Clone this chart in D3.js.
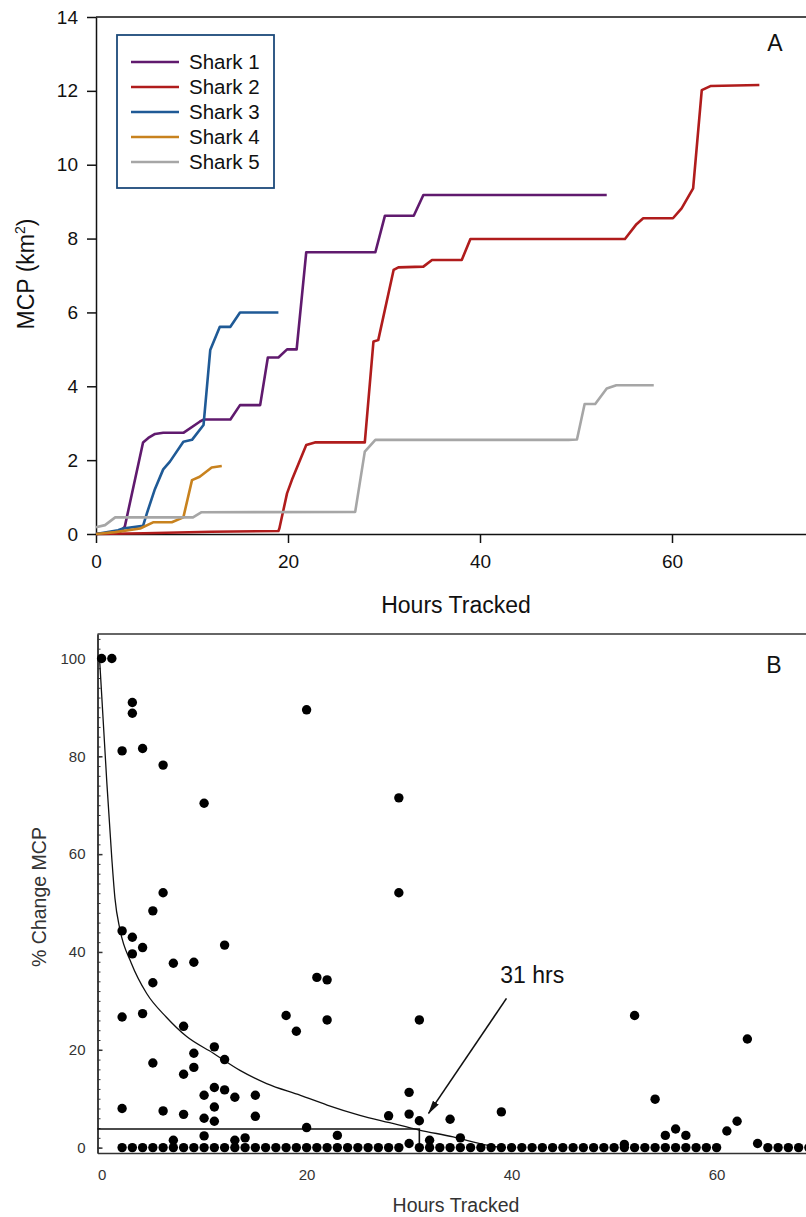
<!DOCTYPE html>
<html>
<head>
<meta charset="utf-8">
<script src="https://cdn.jsdelivr.net/npm/d3@7"></script>
<style>
  body { margin: 0; background: #fff; }
  svg { display: block; font-family: 'Liberation Sans', Arial, sans-serif; }
</style>
</head>
<body>
<script>
// ---- panel A data: cumulative MCP (km2) vs hours tracked
const sharkNames = ['Shark 1', 'Shark 2', 'Shark 3', 'Shark 4', 'Shark 5']
const sharkColors = ['#601a6e', '#b01c1c', '#1f5a96', '#c8821e', '#a6a6a6']

const shark1 = [[0,0],[2.5,0.05],[3.0,0.2],[4.9,2.48],[5.45,2.6],[6.15,2.71],[7.0,2.74],[9.1,2.74],[10.8,3.04],[11.2,3.1],[14.0,3.1],[15.0,3.49],[17.1,3.49],[17.9,4.78],[19.0,4.78],[19.9,5.0],[20.9,5.0],[21.9,7.63],[29.1,7.63],[30.1,8.62],[33.1,8.62],[34.1,9.18],[53.2,9.18]]
const shark2 = [[0,0],[5,0.02],[12,0.06],[19.0,0.08],[19.1,0.15],[19.9,1.1],[20.4,1.46],[21.9,2.41],[22.8,2.48],[28.0,2.48],[28.9,5.21],[29.4,5.25],[31.0,7.15],[31.5,7.22],[34.1,7.24],[35.0,7.42],[38.1,7.42],[39.0,7.99],[55.1,7.99],[56.3,8.39],[57.0,8.55],[60.1,8.55],[61.0,8.82],[62.2,9.36],[63.1,12.02],[64.0,12.13],[69.1,12.16]]
const shark3 = [[0,0],[2.3,0.1],[2.8,0.15],[4.9,0.22],[5.3,0.56],[6.1,1.19],[7.0,1.75],[7.7,1.96],[9.1,2.5],[10.0,2.55],[11.2,2.95],[11.9,4.98],[12.9,5.61],[14.0,5.61],[15.0,6.0],[19.0,6.0]]
const shark4 = [[0,0],[2.0,0.05],[4.6,0.15],[6.0,0.32],[7.9,0.32],[9.1,0.45],[10.0,1.46],[10.8,1.55],[12.05,1.8],[13.1,1.84]]
const shark5 = [[0,0.18],[0.94,0.24],[2.0,0.45],[10.1,0.45],[11.0,0.59],[27.0,0.6],[28.0,2.23],[29.1,2.55],[49.2,2.55],[50.1,2.56],[50.9,3.52],[52.0,3.52],[53.2,3.94],[54.2,4.03],[58.1,4.03]]
const sharkSeries = [shark1, shark2, shark3, shark4, shark5]

const hoursTicksA = [0, 20, 40, 60]
const mcpTicks = [0, 2, 4, 6, 8, 10, 12, 14]

// ---- panel B data: % change in MCP per hour
const changePoints = [
  [0,100],[1,100],[3,91],[3,88.8],[2,81.1],[4,81.6],[6,78.2],[10,70.4],[6,52.1],[5,48.4],
  [2,44.3],[3,43.0],[4,40.9],[3,39.6],[12,41.4],[7,37.7],[9,37.9],[5,33.7],[2,26.7],[4,27.4],
  [18,27.0],[19,23.8],[8,24.8],[11,20.6],[9,19.3],[12,18.0],[5,17.3],[9,16.4],[8,15.0],[11,12.3],
  [12,11.8],[10,10.7],[13,10.3],[15,10.7],[11,8.3],[2,8.0],[6,7.5],[8,6.8],[15,6.4],[10,6.0],
  [11,5.4],[10,2.4],[7,1.5],[13,1.5],[14,2.0],
  [20,89.5],[29,71.5],[29,52.1],[21,34.8],[22,34.3],[22,26.1],[31,26.1],[30,11.3],[28,6.5],[30,6.85],
  [31,5.5],[34,5.8],[20,4.1],[23,2.5],[35,2.0],[32,1.5],[30,0.85],[39,7.3],
  [52,27.0],[63,22.2],[54,9.9],[55,2.5],[56,3.8],[57,2.5],[61,3.4],[62,5.4],[64,0.85],[51,0.65]
]
// hours with a 0 % change
const zeroHours = [2,3,4,5,6,7,8,9,10,11,12,13,14,15,16,17,18,19,20,21,22,23,24,25,26,27,28,29,31,32,33,34,35,36,37,38,39,40,41,42,43,44,45,46,47,48,49,50,51,52,53,54,55,56,57,58,59,60,65,66,67,68,69]
const fitCurve = [[-0.2,100],[0.5,75],[1.0,59],[1.3,51],[1.8,44.5],[2.9,37.7],[4.4,31.5],[6.3,26.7],[8.3,22.7],[10.9,19.3],[13.5,15.8],[16.1,13.1],[19.4,10.7],[22,8.7],[25.2,6.6],[28.1,5.1],[31,3.6],[34.3,2.2],[37.6,0.5],[39,0]]
const cutoffPct = 3.8
const cutoffHours = 31
const arrowFrom = [39.5, 30.5]
const arrowTo = [31.9, 7.0]
const pctTicks = [0, 20, 40, 60, 80, 100]
const hoursTicksB = [0, 20, 40, 60]

const W = 806, H = 1217
const svg = d3.select('body').append('svg').attr('width', W).attr('height', H)

svg.append('defs').append('marker')
    .attr('id', 'arrow')
    .attr('viewBox', '0 -5 14 10')
    .attr('refX', 13).attr('refY', 0)
    .attr('markerWidth', 14).attr('markerHeight', 10)
    .attr('markerUnits', 'userSpaceOnUse')
    .attr('orient', 'auto')
    .append('path')
    .attr('d', 'M0,-3.5L14,0L0,3.5Z')
    .attr('fill', '#111')

function styleAxis(g, size, color) {
    g.attr('font-family', null).attr('font-size', size)
    g.selectAll('text').attr('fill', color)
    g.selectAll('line, path').attr('stroke', color).attr('stroke-width', 1.5)
}

// ================= panel A =================
const xA = d3.scaleLinear().domain([0, 80]).range([96, 864])
const yA = d3.scaleLinear().domain([0, 14]).range([534, 17])

svg.append('line')
    .attr('x1', xA(0)).attr('x2', xA(80))
    .attr('y1', yA(14)).attr('y2', yA(14))
    .attr('stroke', '#111').attr('stroke-width', 1.5)

svg.append('g')
    .attr('transform', `translate(${xA(0)},0)`)
    .call(d3.axisLeft(yA).tickValues(mcpTicks).tickSize(9).tickSizeOuter(0).tickPadding(9))
    .call(g => styleAxis(g, 19, '#111'))

svg.append('g')
    .attr('transform', `translate(0,${yA(0)})`)
    .call(d3.axisBottom(xA).tickValues(hoursTicksA).tickSize(9).tickSizeOuter(0).tickPadding(12))
    .call(g => styleAxis(g, 19, '#111'))

const lineA = d3.line().x(d => xA(d[0])).y(d => yA(d[1]))

svg.append('g')
    .attr('fill', 'none')
    .attr('stroke-width', 2.6)
    .attr('stroke-linejoin', 'round')
    .selectAll('path')
    .data(sharkSeries)
    .join('path')
    .attr('stroke', (d, i) => sharkColors[i])
    .attr('d', lineA)

// legend
const legend = svg.append('g').attr('transform', 'translate(117,35)')
legend.append('rect')
    .attr('width', 157).attr('height', 153)
    .attr('fill', '#fff').attr('stroke', '#1c4a7a').attr('stroke-width', 1.8)
const legendRow = legend.selectAll('g')
    .data(sharkNames)
    .join('g')
    .attr('transform', (d, i) => `translate(0,${27 + i * 25})`)
legendRow.append('line')
    .attr('x1', 14).attr('x2', 62)
    .attr('stroke', (d, i) => sharkColors[i]).attr('stroke-width', 2.6)
legendRow.append('text')
    .attr('x', 72).attr('y', 7)
    .attr('font-size', 20.5).attr('fill', '#111')
    .text(d => d)

svg.append('text')
    .attr('transform', 'translate(34,274) rotate(-90)')
    .attr('text-anchor', 'middle')
    .attr('font-size', 23).attr('fill', '#111')
    .call(t => {
        t.append('tspan').text('MCP (km')
        t.append('tspan').attr('font-size', 14).attr('dy', -9).text('2')
        t.append('tspan').attr('dy', 9).text(')')
    })

svg.append('text')
    .attr('x', 456).attr('y', 613)
    .attr('text-anchor', 'middle')
    .attr('font-size', 23).attr('fill', '#111')
    .text('Hours Tracked')

svg.append('text')
    .attr('x', 775).attr('y', 51)
    .attr('text-anchor', 'middle')
    .attr('font-size', 23).attr('fill', '#111')
    .text('A')

// ================= panel B =================
const xB = d3.scaleLinear().domain([-0.4, 80]).range([97.5, 97.5 + 80.4 * 10.25])
const yB = d3.scaleLinear().domain([-1.1, 105]).range([1153, 634])

svg.append('line')
    .attr('x1', xB(-0.4)).attr('x2', xB(80))
    .attr('y1', yB(105)).attr('y2', yB(105))
    .attr('stroke', '#666').attr('stroke-width', 2)

// minor ticks
svg.append('g')
    .attr('transform', `translate(${xB(-0.4)},0)`)
    .call(d3.axisLeft(yB).tickValues(yB.ticks(50).filter(v => v >= 0)).tickSize(-3).tickSizeOuter(0).tickFormat(''))
    .call(g => styleAxis(g, 14, '#333'))
    .call(g => g.selectAll('line').attr('stroke-width', 1))

svg.append('g')
    .attr('transform', `translate(${xB(-0.4)},0)`)
    .call(d3.axisLeft(yB).tickValues(pctTicks).tickSize(-5).tickSizeOuter(0).tickPadding(12))
    .call(g => styleAxis(g, 15, '#333'))

svg.append('g')
    .attr('transform', `translate(0,${yB(-1.1)})`)
    .call(d3.axisBottom(xB).tickValues(hoursTicksB).tickSize(0).tickSizeOuter(0).tickPadding(16))
    .call(g => styleAxis(g, 15, '#333'))

// threshold lines
svg.append('path')
    .attr('fill', 'none').attr('stroke', '#111').attr('stroke-width', 1.6)
    .attr('d', d3.line()([[xB(-0.4), yB(cutoffPct)], [xB(cutoffHours), yB(cutoffPct)], [xB(cutoffHours), yB(0)]]))

svg.append('path')
    .datum(fitCurve)
    .attr('fill', 'none').attr('stroke', '#111').attr('stroke-width', 1.3)
    .attr('d', d3.line().x(d => xB(d[0])).y(d => yB(d[1])).curve(d3.curveMonotoneX))

const allPoints = changePoints.concat(zeroHours.map(h => [h, 0]))
svg.append('g')
    .selectAll('circle')
    .data(allPoints)
    .join('circle')
    .attr('cx', d => xB(d[0]))
    .attr('cy', d => yB(d[1]))
    .attr('r', 4.7)
    .attr('fill', '#000')

svg.append('line')
    .attr('x1', xB(arrowFrom[0])).attr('y1', yB(arrowFrom[1]))
    .attr('x2', xB(arrowTo[0])).attr('y2', yB(arrowTo[1]))
    .attr('stroke', '#111').attr('stroke-width', 1.6)
    .attr('marker-end', 'url(#arrow)')

svg.append('text')
    .attr('x', xB(38.9)).attr('y', yB(33.6))
    .attr('font-size', 23).attr('fill', '#111')
    .text('31 hrs')

svg.append('text')
    .attr('transform', 'translate(46,897) rotate(-90)')
    .attr('text-anchor', 'middle')
    .attr('font-size', 19.5).attr('fill', '#333')
    .text('% Change MCP')

svg.append('text')
    .attr('x', 456).attr('y', 1212)
    .attr('text-anchor', 'middle')
    .attr('font-size', 19.5).attr('fill', '#333')
    .text('Hours Tracked')

svg.append('text')
    .attr('x', 774).attr('y', 673)
    .attr('text-anchor', 'middle')
    .attr('font-size', 23).attr('fill', '#111')
    .text('B')
</script>
</body>
</html>
